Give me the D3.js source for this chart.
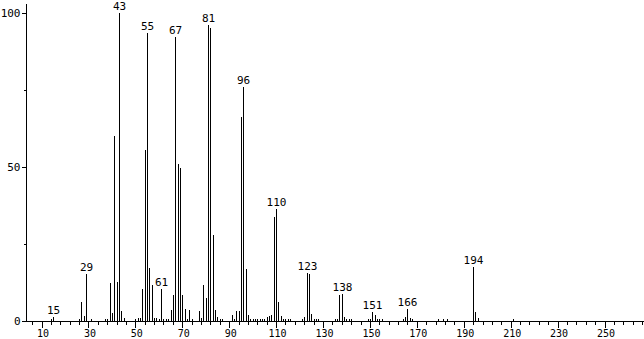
<!DOCTYPE html>
<html>
<head>
<meta charset="utf-8">
<script src="https://cdn.jsdelivr.net/npm/d3@7"></script>
<style>
  body { margin: 0; background: #fff; }
  svg text { font-family: "DejaVu Sans Mono", monospace; font-size: 11px; fill: #000; }
</style>
</head>
<body>
<div id="chart"></div>
<script>
// Mass spectrum: m/z vs relative abundance

const width = 644, height = 339;

// m/z values and relative intensities (% of base peak)
const mzValues = [14, 15, 26, 27, 28, 29, 31, 37, 38, 39, 40, 41, 42, 43, 44, 45,
  50, 51, 52, 53, 54, 55, 56, 57, 58, 59, 60, 61, 62, 63, 64, 65, 66, 67, 68, 69, 70,
  71, 72, 73, 74, 77, 78, 79, 80, 81, 82, 83, 84, 85, 86, 87, 91, 92, 93, 94, 95, 96,
  97, 98, 99, 100, 101, 102, 103, 104, 105, 106, 107, 108, 109, 110, 111, 112, 113,
  114, 115, 116, 121, 122, 123, 124, 125, 126, 127, 128, 135, 136, 137, 138, 139, 140,
  141, 142, 149, 150, 151, 152, 153, 154, 155, 164, 165, 166, 167, 168, 179, 181, 183,
  194, 195, 196, 211];
const intensities = [0.6, 1.3, 0.6, 6.1, 1.7, 15.3, 0.7, 0.6, 0.6, 12.4, 2.6, 60, 12.8, 100, 3.1, 1.0,
  0.7, 1.1, 1.1, 10.4, 55.5, 93.4, 17.3, 11.7, 1.0, 0.9, 0.8, 10.3, 0.8, 0.8, 0.8, 3.6, 8.4, 92.1, 51, 49.6, 8.4,
  3.9, 0.8, 3.6, 0.6, 3.2, 1.0, 11.7, 7.4, 96.1, 95, 27.9, 3.6, 1.4, 0.8, 0.6, 2.0, 0.8, 3.1, 3.1, 66.3, 75.9,
  16.9, 1.9, 0.7, 0.7, 0.6, 0.6, 0.7, 0.6, 0.8, 1.2, 1.5, 2.0, 33.9, 36.3, 6.2, 1.7, 0.7,
  0.7, 0.7, 0.6, 0.8, 1.4, 15.6, 15.2, 2.2, 0.7, 0.7, 0.6, 0.7, 0.8, 8.5, 8.8, 1.4, 0.8,
  0.7, 0.6, 0.6, 0.8, 2.9, 2.1, 0.8, 0.7, 0.6, 0.6, 1.4, 4.0, 1.0, 0.6, 0.6, 0.6, 0.6,
  17.6, 3.0, 0.9, 0.6];

// peaks that carry an m/z label
const labeledPeaks = [15, 29, 43, 55, 61, 67, 81, 96, 110, 123, 138, 151, 166, 194];

// axis ticks
const xMajorTicks = d3.range(10, 251, 20);
const xMinorTicks = d3.range(6, 267, 4);
const yMajorTicks = [0, 50, 100];
const yMinorTicks = [25, 75];

const peaks = mzValues.map((mz, i) => ({ mz, value: intensities[i] }));

const svg = d3.select("#chart")
  .append("svg")
  .attr("width", width)
  .attr("height", height);

const x = d3.scaleLinear()
  .domain([10, 250])
  .range([41.5, 604.5]);

const y = d3.scaleLinear()
  .domain([0, 100])
  .range([321, 13]);

const axisLeftX = 26;
const px = v => Math.round(x(v)) + 0.5;

// peaks
svg.selectAll("line.peak")
  .data(peaks)
  .enter()
  .append("line")
  .attr("class", "peak")
  .attr("x1", d => px(d.mz))
  .attr("x2", d => px(d.mz))
  .attr("y1", y(0))
  .attr("y2", d => Math.round(y(d.value)))
  .attr("stroke", "#000")
  .attr("stroke-width", 1);

// peak labels
svg.selectAll("text.peak-label")
  .data(peaks.filter(d => labeledPeaks.includes(d.mz)))
  .enter()
  .append("text")
  .attr("class", "peak-label")
  .attr("x", d => px(d.mz))
  .attr("y", d => y(d.value) - 3)
  .attr("text-anchor", "middle")
  .text(d => d.mz);

// x axis
const xAxisG = svg.append("g")
  .attr("transform", `translate(0, ${y(0) + 0.5})`);

xAxisG.append("g")
  .call(d3.axisBottom(x).tickValues(xMinorTicks).tickSize(3).tickFormat(""))
  .call(g => g.select(".domain").remove());

xAxisG.append("g")
  .call(d3.axisBottom(x).tickValues(xMajorTicks).tickSize(6).tickFormat(d3.format("d")))
  .call(g => g.select(".domain").remove())
  .call(g => g.selectAll("text")
    .attr("y", 15.5)
    .attr("dy", 0)
    .attr("dx", 1)
    .style("font-size", "10px")
    .style("font-family", "DejaVu Sans Mono"));

xAxisG.append("line")
  .attr("x1", axisLeftX)
  .attr("x2", width)
  .attr("stroke", "#000");

// y axis
const yAxisG = svg.append("g")
  .attr("transform", `translate(${axisLeftX + 0.5}, 0)`);

yAxisG.append("g")
  .call(d3.axisLeft(y).tickValues(yMinorTicks).tickSize(3).tickFormat(""))
  .call(g => g.select(".domain").remove());

yAxisG.append("g")
  .call(d3.axisLeft(y).tickValues(yMajorTicks).tickSize(5).tickPadding(1).tickFormat(d3.format("d")))
  .call(g => g.select(".domain").remove())
  .call(g => g.selectAll("text").style("font-size", "11px").style("font-family", "DejaVu Sans Mono"));

yAxisG.append("line")
  .attr("y1", 4)
  .attr("y2", y(0) + 0.5)
  .attr("stroke", "#000");

svg.selectAll(".tick line").attr("shape-rendering", "crispEdges");
</script>
</body>
</html>
